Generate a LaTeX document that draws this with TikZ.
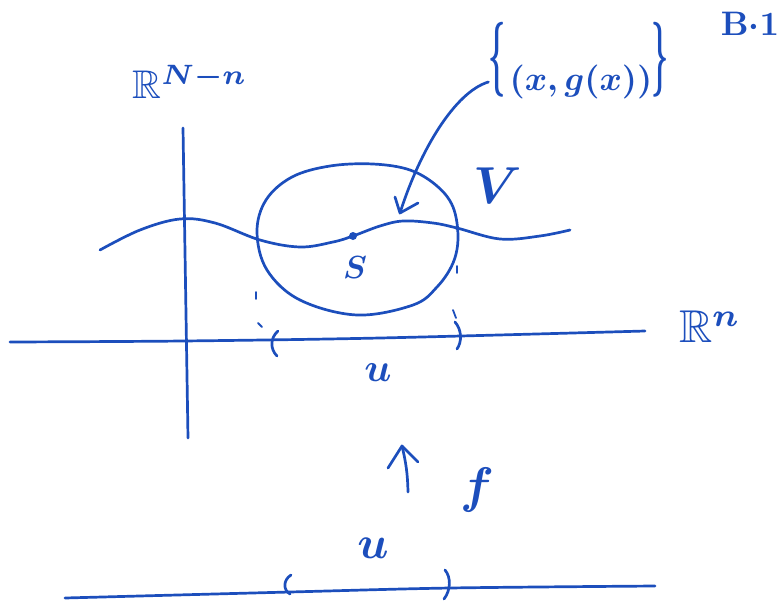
\documentclass[tikz,border=0pt]{standalone}
\usepackage{amssymb}
\usepackage{graphicx}
\usetikzlibrary{arrows.meta,calc}
\definecolor{ink}{RGB}{28,78,188}
\newcommand{\hw}[2]{\scalebox{#1}{\boldmath$#2$}}
\begin{document}
\begin{tikzpicture}[x=1pt,y=-1pt,
  pen/.style={draw=ink,line width=2.7pt,line cap=round,line join=round},
  fine/.style={draw=ink,line width=1.8pt,line cap=round},
  lbl/.style={text=ink,inner sep=0pt,outer sep=0pt},
  dotn/.style={circle,fill=ink,inner sep=0pt,minimum size=#1}]
\useasboundingbox (0,0) rectangle (781,605);

% axes
\coordinate (vtop) at (183,128);
\coordinate (vbot) at (188,438);
\draw[pen] (vtop) -- (vbot);
\draw[pen] plot[smooth] coordinates {(10,342) (183,341) (380,338) (645,331)};

% graph of g
\draw[pen] plot[smooth,tension=0.6] coordinates {(100,250) (140,230) (180,219) (215,223) (260,240) (300,247) (333,242) (353,236) (380,226) (403,221) (433,223) (457,228) (500,239) (540,236) (570,230)};

% neighbourhood V
\draw[pen] plot[smooth cycle,tension=0.6] coordinates {(373,164) (410,170) (437,186) (453,207) (458,237) (453,263) (437,287) (413,305) (357,315) (300,300) (267,270) (257,232) (266,200) (292,177) (330,166)};

% point
\node[dotn=8pt] (sdot) at (353,236) {};
\node[dotn=4pt] (rdot) at (457,228) {};

% interval on R^n
\draw[pen] (278,331) .. controls (270,338) and (270,349) .. (277,356);
\draw[pen] (455,322) .. controls (462,330) and (462,342) .. (457,349);
\draw[fine] (258,323) -- (262,327);
\draw[fine] (453,310) -- (456,318);
\draw[fine] (256,292) -- (256,299);
\draw[fine] (457,266) -- (457,273);

% lower line
\draw[pen] plot[smooth] coordinates {(65,598) (290,592) (450,588) (655,586)};
\draw[pen] (291,575) .. controls (283,580) and (283,590) .. (290,594);
\draw[pen] (445,570) .. controls (451,577) and (451,590) .. (444,599);

% map f
\coordinate (fb) at (408,492);
\coordinate (ft) at (402,446);
\draw[pen] (fb) to[bend right=6] (ft);
\draw[pen] ($(ft)+(-14,22)$) -- (ft) -- ($(ft)+(16,16)$);

% labels
\node[lbl] (rnn) at (190,82) {\hw{4}{\mathbb{R}^{N-n}}};
\node[lbl] (rn) at (710,327) {\hw{4.6}{\mathbb{R}^{n}}};
\node[lbl] (S) at (355,268) {\hw{3.2}{S}};
\node[lbl] (V) at (498,186) {\hw{5.2}{V}};
\node[lbl] (U1) at (378,373) {\hw{4}{u}};
\node[lbl] (U2) at (373,548) {\hw{4.6}{u}};
\node[lbl] (F) at (477,490) {\hw{5}{f}};
\node[lbl] (B) at (750,24) {\hw{3.4}{\mathrm{B}{\cdot}\mathrm{1}}};
\node[lbl] (lb) at (497,60) {\scalebox{3}[7.5]{\boldmath$\{$}};
\node[lbl] (gx) at (581,82) {\hw{3.4}{(x,g(x))}};
\node[lbl] (rb) at (660,60) {\scalebox{3}[7.5]{\boldmath$\}$}};

\coordinate (tip) at (400,213);
\draw[pen] (lb.west |- gx.west) .. controls (455,92) and (420,150) .. (tip);
\draw[pen] ($(tip)+(-5,-16)$) -- (tip) -- ($(tip)+(18,-10)$);
\end{tikzpicture}
\end{document}
